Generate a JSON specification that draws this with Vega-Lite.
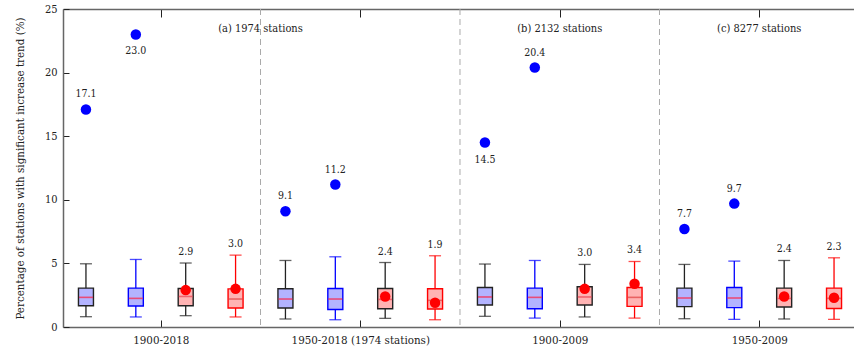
{
  "$schema": "https://vega.github.io/schema/vega-lite/v6.json",
  "width": 791,
  "height": 318,
  "autosize": {"type": "none"},
  "padding": {"left": 63, "top": 9, "right": 0, "bottom": 26},
  "background": "white",
  "config": {
    "font": "DejaVu Serif Condensed",
    "view": {"stroke": null},
    "text": {"font": "DejaVu Serif Condensed"},
    "axis": {"labelFont": "DejaVu Serif Condensed", "titleFont": "DejaVu Serif Condensed", "labelColor": "#222", "titleColor": "#222", "grid": false, "domainColor": "#666", "tickColor": "#222", "domainWidth": 1.5, "tickWidth": 1}
  },
  "datasets": {
    "boxes": [
      {"grp": "1900-2018", "pos": -1.5, "s": "A", "lo": 0.81, "q1": 1.67, "med": 2.33, "q3": 3.06, "hi": 4.97, "val": 17.1, "below": false},
      {"grp": "1900-2018", "pos": -0.5, "s": "B", "lo": 0.79, "q1": 1.65, "med": 2.25, "q3": 3.06, "hi": 5.31, "val": 23.0, "below": true},
      {"grp": "1900-2018", "pos": 0.5, "s": "C", "lo": 0.89, "q1": 1.67, "med": 2.4, "q3": 3.03, "hi": 5.03, "val": 2.9, "below": false},
      {"grp": "1900-2018", "pos": 1.5, "s": "D", "lo": 0.79, "q1": 1.49, "med": 2.2, "q3": 3.0, "hi": 5.65, "val": 3.0, "below": false},
      {"grp": "1950-2018 (1974 stations)", "pos": 2.5, "s": "A", "lo": 0.63, "q1": 1.49, "med": 2.2, "q3": 3.01, "hi": 5.23, "val": 9.1, "below": false},
      {"grp": "1950-2018 (1974 stations)", "pos": 3.5, "s": "B", "lo": 0.57, "q1": 1.38, "med": 2.2, "q3": 3.03, "hi": 5.52, "val": 11.2, "below": false},
      {"grp": "1950-2018 (1974 stations)", "pos": 4.5, "s": "C", "lo": 0.68, "q1": 1.44, "med": 2.17, "q3": 3.03, "hi": 5.07, "val": 2.4, "below": false},
      {"grp": "1950-2018 (1974 stations)", "pos": 5.5, "s": "D", "lo": 0.57, "q1": 1.41, "med": 2.09, "q3": 3.01, "hi": 5.6, "val": 1.9, "below": false},
      {"grp": "1900-2009", "pos": 6.5, "s": "A", "lo": 0.84, "q1": 1.73, "med": 2.36, "q3": 3.11, "hi": 4.95, "val": 14.5, "below": true},
      {"grp": "1900-2009", "pos": 7.5, "s": "B", "lo": 0.7, "q1": 1.44, "med": 2.33, "q3": 3.06, "hi": 5.23, "val": 20.4, "below": false},
      {"grp": "1900-2009", "pos": 8.5, "s": "C", "lo": 0.79, "q1": 1.73, "med": 2.36, "q3": 3.17, "hi": 4.92, "val": 3.0, "below": false},
      {"grp": "1900-2009", "pos": 9.5, "s": "D", "lo": 0.7, "q1": 1.62, "med": 2.33, "q3": 3.11, "hi": 5.15, "val": 3.4, "below": false},
      {"grp": "1950-2009", "pos": 10.5, "s": "A", "lo": 0.65, "q1": 1.6, "med": 2.28, "q3": 3.06, "hi": 4.92, "val": 7.7, "below": false},
      {"grp": "1950-2009", "pos": 11.5, "s": "B", "lo": 0.6, "q1": 1.52, "med": 2.28, "q3": 3.11, "hi": 5.18, "val": 9.7, "below": false},
      {"grp": "1950-2009", "pos": 12.5, "s": "C", "lo": 0.63, "q1": 1.57, "med": 2.25, "q3": 3.06, "hi": 5.23, "val": 2.4, "below": false},
      {"grp": "1950-2009", "pos": 13.5, "s": "D", "lo": 0.6, "q1": 1.46, "med": 2.25, "q3": 3.06, "hi": 5.44, "val": 2.3, "below": false}
    ],
    "seps": [{"x": 2}, {"x": 6}, {"x": 10}],
    "panels": [
      {"x": 2, "y": 23.4, "t": "(a) 1974 stations"},
      {"x": 8, "y": 23.4, "t": "(b) 2132 stations"},
      {"x": 12, "y": 23.4, "t": "(c) 8277 stations"}
    ]
  },
  "resolve": {"axis": {"x": "independent", "y": "independent"}, "scale": {"color": "independent"}},
  "layer": [
    {
      "data": {"name": "seps"},
      "mark": {"type": "rule", "strokeDash": [6, 4], "color": "#aaa", "strokeWidth": 1},
      "encoding": {
        "x": {"field": "x", "type": "quantitative", "scale": {"domain": [-1.86, 13.8], "nice": false, "zero": false},
          "axis": {"orient": "bottom", "values": [0, 4, 8, 12], "tickSize": -7, "labelPadding": 14, "labelFontSize": 11.5, "title": null,
            "labelExpr": "datum.value == 0 ? '1900-2018' : datum.value == 4 ? '1950-2018 (1974 stations)' : datum.value == 8 ? '1900-2009' : '1950-2009'"}}
      }
    },
    {
      "data": {"name": "panels"},
      "mark": {"type": "text", "fontSize": 11, "color": "#222", "baseline": "middle"},
      "encoding": {
        "x": {"field": "x", "type": "quantitative", "axis": {"orient": "top", "values": [0, 4, 8, 12], "labels": false, "tickSize": -8, "title": null}},
        "y": {"field": "y", "type": "quantitative", "scale": {"domain": [0, 25], "nice": false},
          "axis": {"orient": "left", "values": [0, 5, 10, 15, 20, 25], "tickSize": -6, "labelPadding": 12, "labelFontSize": 11, "titleFontSize": 11.5, "titleFontWeight": "normal", "titlePadding": 19,
            "title": "Percentage of stations with significant increase trend (%)"}},
        "text": {"field": "t"}
      }
    },
    {
      "data": {"name": "boxes"},
      "mark": {"type": "rule", "strokeWidth": 1.3},
      "encoding": {
        "x": {"field": "pos", "type": "quantitative", "axis": null},
        "y": {"field": "lo", "type": "quantitative", "axis": null},
        "y2": {"field": "hi"},
        "stroke": {"field": "s", "type": "nominal", "legend": null, "scale": {"domain": ["A", "B", "C", "D"], "range": ["#222", "#0000ff", "#222", "#ff0000"]}}
      }
    },
    {
      "data": {"name": "boxes"},
      "mark": {"type": "tick", "orient": "horizontal", "size": 12, "thickness": 1.3},
      "encoding": {
        "x": {"field": "pos", "type": "quantitative", "axis": null},
        "y": {"field": "lo", "type": "quantitative", "axis": null},
        "color": {"field": "s", "type": "nominal", "legend": null, "scale": {"domain": ["A", "B", "C", "D"], "range": ["#222", "#0000ff", "#222", "#ff0000"]}}
      }
    },
    {
      "data": {"name": "boxes"},
      "mark": {"type": "tick", "orient": "horizontal", "size": 12, "thickness": 1.3},
      "encoding": {
        "x": {"field": "pos", "type": "quantitative", "axis": null},
        "y": {"field": "hi", "type": "quantitative", "axis": null},
        "color": {"field": "s", "type": "nominal", "legend": null, "scale": {"domain": ["A", "B", "C", "D"], "range": ["#222", "#0000ff", "#222", "#ff0000"]}}
      }
    },
    {
      "data": {"name": "boxes"},
      "mark": {"type": "bar", "size": 15, "strokeWidth": 1.4},
      "encoding": {
        "x": {"field": "pos", "type": "quantitative", "axis": null},
        "y": {"field": "q1", "type": "quantitative", "axis": null},
        "y2": {"field": "q3"},
        "fill": {"field": "s", "type": "nominal", "legend": null, "scale": {"domain": ["A", "B", "C", "D"], "range": ["#b3b3ff", "#b3b3ff", "#ffb3b3", "#ffb3b3"]}},
        "stroke": {"field": "s", "type": "nominal", "legend": null}
      }
    },
    {
      "data": {"name": "boxes"},
      "mark": {"type": "tick", "orient": "horizontal", "size": 14, "thickness": 1.6},
      "encoding": {
        "x": {"field": "pos", "type": "quantitative", "axis": null},
        "y": {"field": "med", "type": "quantitative", "axis": null},
        "color": {"field": "s", "type": "nominal", "legend": null, "scale": {"domain": ["A", "B", "C", "D"], "range": ["#ff2040", "#ff2040", "#e84050", "#e04040"]}}
      }
    },
    {
      "data": {"name": "boxes"},
      "mark": {"type": "circle", "size": 110, "opacity": 1},
      "encoding": {
        "x": {"field": "pos", "type": "quantitative", "axis": null},
        "y": {"field": "val", "type": "quantitative", "axis": null},
        "color": {"field": "s", "type": "nominal", "legend": null, "scale": {"domain": ["A", "B", "C", "D"], "range": ["#0000ff", "#0000ff", "#ff0000", "#ff0000"]}}
      }
    },
    {
      "data": {"name": "boxes"},
      "transform": [{"filter": "(datum.s == 'A' || datum.s == 'B') && !datum.below"}],
      "mark": {"type": "text", "fontSize": 10.5, "dy": -15, "color": "#222", "baseline": "middle"},
      "encoding": {
        "x": {"field": "pos", "type": "quantitative", "axis": null},
        "y": {"field": "val", "type": "quantitative", "axis": null},
        "text": {"field": "val", "type": "quantitative", "format": ".1f"}
      }
    },
    {
      "data": {"name": "boxes"},
      "transform": [{"filter": "(datum.s == 'A' || datum.s == 'B') && datum.below"}],
      "mark": {"type": "text", "fontSize": 10.5, "dy": 17, "color": "#222", "baseline": "middle"},
      "encoding": {
        "x": {"field": "pos", "type": "quantitative", "axis": null},
        "y": {"field": "val", "type": "quantitative", "axis": null},
        "text": {"field": "val", "type": "quantitative", "format": ".1f"}
      }
    },
    {
      "data": {"name": "boxes"},
      "transform": [{"filter": "datum.s == 'C' || datum.s == 'D'"}],
      "mark": {"type": "text", "fontSize": 10.5, "dy": -11, "color": "#222", "baseline": "middle"},
      "encoding": {
        "x": {"field": "pos", "type": "quantitative", "axis": null},
        "y": {"field": "hi", "type": "quantitative", "axis": null},
        "text": {"field": "val", "type": "quantitative", "format": ".1f"}
      }
    }
  ]
}
